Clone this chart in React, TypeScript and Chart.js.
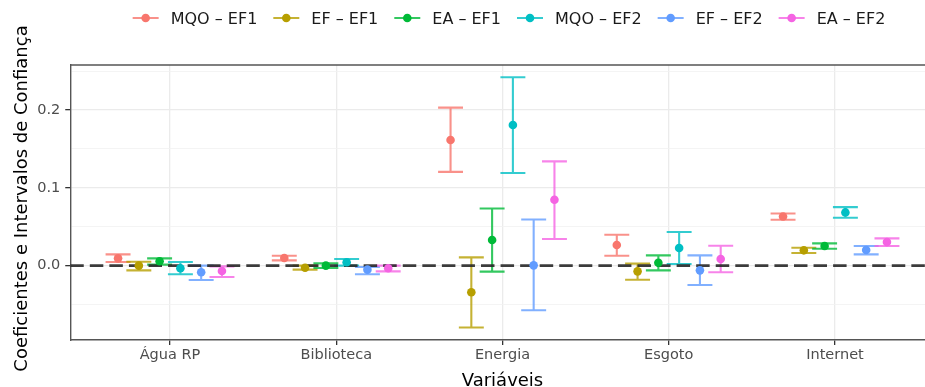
import React, { useEffect, useRef } from 'react';
import { Chart, registerables } from 'chart.js';

Chart.register(...registerables);

// ---------- data ----------
const categories = ['Água RP', 'Biblioteca', 'Energia', 'Esgoto', 'Internet'];
const seriesNames = ['MQO – EF1', 'EF – EF1', 'EA – EF1', 'MQO – EF2', 'EF – EF2', 'EA – EF2'];
const seriesColors = ['#F8766D', '#B79F00', '#00BA38', '#00BFC4', '#619CFF', '#F564E3'];

const mqoEf1Est = [0.0094, 0.0098, 0.1615, 0.0265, 0.0632];
const mqoEf1Lo = [0.0047, 0.0068, 0.1205, 0.0128, 0.059];
const mqoEf1Hi = [0.0145, 0.0128, 0.203, 0.0397, 0.067];

const efEf1Est = [0.0, -0.0026, -0.0342, -0.0073, 0.0197];
const efEf1Lo = [-0.006, -0.0051, -0.0795, -0.018, 0.0162];
const efEf1Hi = [0.0051, 0.0, 0.0107, 0.0026, 0.023];

const eaEf1Est = [0.0056, 0.0, 0.0329, 0.0038, 0.0252];
const eaEf1Lo = [0.0013, -0.003, -0.0077, -0.006, 0.0218];
const eaEf1Hi = [0.0094, 0.003, 0.0735, 0.0132, 0.0286];

const mqoEf2Est = [-0.0034, 0.0043, 0.1808, 0.0226, 0.0684];
const mqoEf2Lo = [-0.011, 0.0, 0.119, 0.0021, 0.0615];
const mqoEf2Hi = [0.0047, 0.0085, 0.242, 0.0432, 0.0752];

const efEf2Est = [-0.0085, -0.0051, 0.0004, -0.006, 0.0201];
const efEf2Lo = [-0.0184, -0.011, -0.0573, -0.0248, 0.0145];
const efEf2Hi = [0.0, -0.0017, 0.0594, 0.0132, 0.0252];

const eaEf2Est = [-0.0068, -0.0034, 0.0846, 0.0085, 0.0303];
const eaEf2Lo = [-0.0145, -0.0073, 0.0342, -0.0085, 0.0252];
const eaEf2Hi = [-0.0009, 0.0, 0.134, 0.0256, 0.035];

const yTickValues = [-0.05, 0, 0.05, 0.1, 0.15, 0.2, 0.25];
const yMin = -0.0955;
const yMax = 0.2578;
const xTitle = 'Variáveis';
const yTitle = 'Coeficientes e Intervalos de Confiança';

const estimates = [mqoEf1Est, efEf1Est, eaEf1Est, mqoEf2Est, efEf2Est, eaEf2Est];
const lowers = [mqoEf1Lo, efEf1Lo, eaEf1Lo, mqoEf2Lo, efEf2Lo, eaEf2Lo];
const uppers = [mqoEf1Hi, efEf1Hi, eaEf1Hi, mqoEf2Hi, efEf2Hi, eaEf2Hi];

const DODGE = 0.75;
const CAP_HALF = 0.075;
const FONT = '"DejaVu Sans", sans-serif';

function hexAlpha(hex: string, a: number) {
  const r = parseInt(hex.slice(1, 3), 16);
  const g = parseInt(hex.slice(3, 5), 16);
  const b = parseInt(hex.slice(5, 7), 16);
  return `rgba(${r},${g},${b},${a})`;
}

const isMajor = (v: number) => Math.abs(v * 10 - Math.round(v * 10)) < 1e-9;

const customPlugin = {
  id: 'ggDecor',
  beforeDatasetsDraw(chart: any) {
    const { ctx, chartArea, scales } = chart;
    const x = scales.x;
    const y = scales.y;
    ctx.save();
    ctx.beginPath();
    ctx.rect(chartArea.left, chartArea.top, chartArea.right - chartArea.left, chartArea.bottom - chartArea.top);
    ctx.clip();
    // error bars
    chart.data.datasets.forEach((ds: any, i: number) => {
      ctx.strokeStyle = hexAlpha(seriesColors[i], 0.8);
      ctx.lineWidth = 2.1;
      ds.data.forEach((pt: any, j: number) => {
        const px = x.getPixelForValue(pt.x);
        const pl = x.getPixelForValue(pt.x - CAP_HALF);
        const pr = x.getPixelForValue(pt.x + CAP_HALF);
        const yl = y.getPixelForValue(lowers[i][j]);
        const yh = y.getPixelForValue(uppers[i][j]);
        ctx.beginPath();
        ctx.moveTo(pl, yh);
        ctx.lineTo(pr, yh);
        ctx.moveTo(px, yh);
        ctx.lineTo(px, yl);
        ctx.moveTo(pl, yl);
        ctx.lineTo(pr, yl);
        ctx.stroke();
      });
    });
    // zero reference line
    const y0 = y.getPixelForValue(0);
    ctx.strokeStyle = 'rgba(40,40,40,0.9)';
    ctx.lineWidth = 2.6;
    ctx.setLineDash([13.5, 6.06]);
    ctx.beginPath();
    ctx.moveTo(chartArea.left, y0);
    ctx.lineTo(chartArea.right, y0);
    ctx.stroke();
    ctx.restore();
  },
  afterDraw(chart: any) {
    const { ctx, chartArea } = chart;
    ctx.save();
    // top panel border
    ctx.strokeStyle = '#555555';
    ctx.lineWidth = 1.4;
    ctx.beginPath();
    ctx.moveTo(chartArea.left, chartArea.top);
    ctx.lineTo(chartArea.right, chartArea.top);
    ctx.stroke();

    // legend
    ctx.font = `16px ${FONT}`;
    const keyW = 26;
    const keyGap = 12;
    const itemGap = 16;
    const widths = seriesNames.map((n) => ctx.measureText(n).width);
    const total = widths.reduce((a, b) => a + b, 0) + seriesNames.length * (keyW + keyGap) + (seriesNames.length - 1) * itemGap;
    let cx = 509 - total / 2;
    const ly = 18;
    seriesNames.forEach((name, i) => {
      ctx.strokeStyle = hexAlpha(seriesColors[i], 0.8);
      ctx.lineWidth = 2;
      ctx.beginPath();
      ctx.moveTo(cx, ly);
      ctx.lineTo(cx + keyW, ly);
      ctx.stroke();
      ctx.fillStyle = seriesColors[i];
      ctx.beginPath();
      ctx.arc(cx + keyW / 2, ly, 4.3, 0, Math.PI * 2);
      ctx.fill();
      ctx.fillStyle = '#1a1a1a';
      ctx.textAlign = 'left';
      ctx.textBaseline = 'alphabetic';
      ctx.fillText(name, cx + keyW + keyGap, ly + 6);
      cx += keyW + keyGap + widths[i] + itemGap;
    });

    // axis titles
    ctx.fillStyle = '#000000';
    ctx.font = `18px ${FONT}`;
    ctx.textAlign = 'center';
    ctx.textBaseline = 'alphabetic';
    ctx.fillText(xTitle, (chartArea.left + 934.75) / 2, 385.5);
    ctx.translate(27, (chartArea.top + chartArea.bottom) / 2 - 4);
    ctx.rotate(-Math.PI / 2);
    ctx.fillText(yTitle, 0, 0);
    ctx.restore();
  },
};

export default function App() {
  const canvasRef = useRef<HTMLCanvasElement | null>(null);

  useEffect(() => {
    const canvas = canvasRef.current;
    if (!canvas) return;
    const n = seriesNames.length;
    const datasets = seriesNames.map((name, i) => ({
      label: name,
      data: estimates[i].map((v, j) => ({ x: j + (i - (n - 1) / 2) * (DODGE / n), y: v })),
      backgroundColor: seriesColors[i],
      borderColor: seriesColors[i],
      pointRadius: 4.3,
      pointBorderWidth: 0,
      showLine: false,
    }));

    const chart = new Chart(canvas, {
      type: 'scatter',
      data: { datasets },
      plugins: [customPlugin],
      options: {
        animation: false,
        responsive: false,
        devicePixelRatio: 1,
        events: [],
        layout: { padding: { top: 65, left: 0, right: 5.25, bottom: 0 } },
        plugins: {
          legend: { display: false },
          tooltip: { enabled: false },
        },
        scales: {
          x: {
            type: 'linear',
            min: -0.6,
            max: categories.length - 1 + 0.6,
            afterBuildTicks: (scale: any) => {
              scale.ticks = categories.map((_, i) => ({ value: i }));
            },
            afterFit: (scale: any) => {
              scale.height = 47;
            },
            ticks: {
              autoSkip: false,
              maxRotation: 0,
              padding: 2,
              color: '#4d4d4d',
              font: { family: FONT, size: 14.5 },
              callback: (v: any) => categories[Math.round(Number(v))] ?? '',
            },
            grid: {
              color: '#EBEBEB',
              lineWidth: 1.3,
              tickColor: '#333333',
              tickLength: 5,
              tickWidth: 1.3,
            },
            border: { display: true, color: '#555555', width: 1.4 },
          },
          y: {
            type: 'linear',
            min: yMin,
            max: yMax,
            afterBuildTicks: (scale: any) => {
              scale.ticks = yTickValues.map((v) => ({ value: v }));
            },
            afterFit: (scale: any) => {
              scale.width = 70.25;
            },
            ticks: {
              padding: 5,
              color: '#4d4d4d',
              font: { family: FONT, size: 14.5 },
              callback: (v: any) => (isMajor(Number(v)) ? Number(v).toFixed(1) : ''),
            },
            grid: {
              color: (c: any) => (c.tick && isMajor(c.tick.value) ? '#EBEBEB' : '#F1F1F1'),
              lineWidth: (c: any) => (c.tick && isMajor(c.tick.value) ? 1.3 : 0.8),
              tickColor: (c: any) => (c.tick && isMajor(c.tick.value) ? '#333333' : 'rgba(0,0,0,0)'),
              tickLength: 5,
              tickWidth: 1.3,
            },
            border: { display: true, color: '#555555', width: 1.4 },
          },
        },
      } as any,
    });
    return () => chart.destroy();
  }, []);

  return (
    <div
      style={{
        position: 'fixed',
        left: 0,
        top: 0,
        width: 925,
        height: 387,
        overflow: 'hidden',
        background: '#ffffff',
      }}
    >
      <canvas ref={canvasRef} width={940} height={387} style={{ display: 'block', width: 940, height: 387 }} />
    </div>
  );
}
